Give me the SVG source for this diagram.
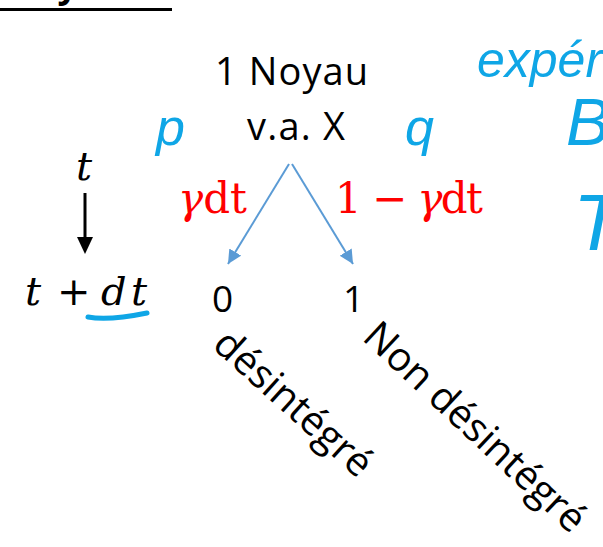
<svg xmlns="http://www.w3.org/2000/svg" width="603" height="547" viewBox="0 0 603 547">
<style>
.sans{font-family:"Open Sans","Liberation Sans",sans-serif;fill:#000;}
.math{font-family:"DejaVu Serif","Liberation Serif",serif;}
.red{fill:#ff0000;}
.ink{font-family:"Liberation Sans","DejaVu Sans",sans-serif;font-style:italic;fill:#0fa6e6;}
.conn{stroke:#5b9bd5;stroke-width:2;fill:none;}
</style>
<defs>
<marker id="bh" markerUnits="userSpaceOnUse" markerWidth="16" markerHeight="16" refX="14" refY="7" orient="auto">
<path d="M0,0 L14,7 L0,14 Z" fill="#5b9bd5"/>
</marker>
</defs>
<rect width="603" height="547" fill="#fff"/>

<g id="title">
<text class="sans" x="6" y="-3" font-size="36" font-weight="bold">Noyau :</text>
<line x1="0" y1="9.5" x2="172" y2="9.5" stroke="#000" stroke-width="3"/>
</g>

<g id="root">
<text class="sans" x="215" y="85" font-size="38" textLength="153" lengthAdjust="spacing">1 Noyau</text>
<text class="sans" x="247" y="140" font-size="38" textLength="98" lengthAdjust="spacing">v.a. X</text>
</g>

<g id="time">
<text class="math" x="76" y="180" font-size="40" font-style="italic">t</text>
<line x1="85" y1="193" x2="85" y2="240" stroke="#000" stroke-width="3"/>
<path d="M77,237 L93,237 L85,254 Z" fill="#000"/>
<text class="math" y="305" font-size="40" font-style="italic"><tspan x="25">t</tspan><tspan x="57" font-style="normal">+</tspan><tspan x="101">d</tspan><tspan x="131">t</tspan></text>
<path d="M88,317 Q108,321 147,313" stroke="#0fa6e6" stroke-width="5" fill="none" stroke-linecap="round"/>
</g>

<g id="connectors">
<line class="conn" x1="289" y1="164" x2="228" y2="264" marker-end="url(#bh)"/>
<line class="conn" x1="292" y1="164" x2="353" y2="264" marker-end="url(#bh)"/>
</g>

<g id="labels">
<text class="math red" x="178" y="213" font-size="42" textLength="69" lengthAdjust="spacing"><tspan font-style="italic">γ</tspan>dt</text>
<text class="math red" x="335" y="213" font-size="42" textLength="148" lengthAdjust="spacing">1 − <tspan font-style="italic">γ</tspan>dt</text>
</g>

<g id="leaf0">
<text class="sans" x="212" y="312" font-size="37">0</text>
<text class="sans" font-size="40" transform="translate(211,347) rotate(42)">désintégré</text>
</g>

<g id="leaf1">
<text class="sans" x="343" y="312" font-size="37">1</text>
<text class="sans" font-size="40" transform="translate(361,339) rotate(43)">Non désintégré</text>
</g>

<g id="annotations">
<text class="ink" x="156" y="145" font-size="52">p</text>
<text class="ink" x="405" y="145" font-size="52">q</text>
<text class="ink" x="477" y="77" font-size="50">expér</text>
<text class="ink" x="566" y="145" font-size="66" font-style="normal">B</text>
<text class="ink" x="573" y="250" font-size="80" font-style="normal">T</text>
</g>
</svg>
